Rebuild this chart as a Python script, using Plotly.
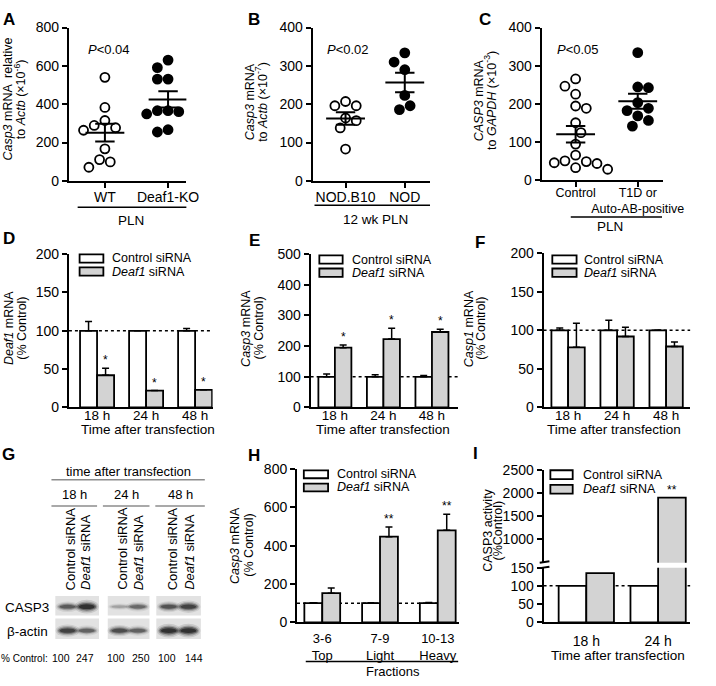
import numpy as np
import plotly.graph_objects as go

W, H = 716, 686
FONT = "Liberation Sans, Arial, Helvetica, sans-serif"
GRAY = "#d3d3d3"

# ---------------- data ----------------
# A
a_categories = ["WT", "Deaf1-KO"]
a_wt = [540, 383, 289, 264, 277, 315, 167, 111, 71, 99]
a_ko = [630, 591, 531, 531, 366, 361, 349, 366, 255, 267]
a_yticks = [0, 200, 400, 600, 800]
a_pvalue = "<i>P</i>&lt;0.04"
a_group = "PLN"
# B
b_categories = ["NOD.B10", "NOD"]
b_nodb10 = [207, 196, 196, 164, 157, 138, 83]
b_nod = [334, 310, 290, 223, 186, 196]
b_yticks = [0, 100, 200, 300, 400]
b_pvalue = "<i>P</i>&lt;0.02"
b_group = "12 wk PLN"
# C
c_categories = ["Control", "T1D or<br>Auto-AB-positive"]
c_control = [265, 246, 225, 194, 188, 150, 124, 94, 65, 50, 43, 45, 48, 28, 32]
c_t1d = [334, 242, 244, 203, 188, 182, 168, 156, 141]
c_yticks = [0, 100, 200, 300, 400]
c_pvalue = "<i>P</i>&lt;0.05"
c_group = "PLN"
# D, E, F
series_names = ["Control siRNA", "<i>Deaf1</i> siRNA"]
time_labels = ["18 h", "24 h", "48 h"]
d_ctrl = [100, 100, 100]
d_ctrl_err = [12, 0, 3]
d_deaf = [42, 22, 23]
d_deaf_err = [9, 0, 0]
d_sig = ["*", "*", "*"]
d_yticks = [0, 50, 100, 150, 200]
e_ctrl = [100, 100, 100]
e_ctrl_err = [9, 7, 4]
e_deaf = [195, 223, 246]
e_deaf_err = [9, 35, 9]
e_sig = ["*", "*", "*"]
e_yticks = [0, 100, 200, 300, 400, 500]
f_ctrl = [100, 100, 100]
f_ctrl_err = [3, 13, 0.5]
f_deaf = [78, 92, 79]
f_deaf_err = [31, 12, 6]
f_sig = ["", "", ""]
f_yticks = [0, 50, 100, 150, 200]
# G (western blot)
blot_header = "time after transfection"
blot_times = ["18 h", "24 h", "48 h"]
blot_lanes = ["Control siRNA", "<i>Deaf1</i> siRNA"]
blot_rows = ["CASP3", "β-actin"]
casp3_intensity = [0.65, 1.0, 0.25, 0.55, 0.7, 0.85]
actin_intensity = [0.85, 0.6, 0.75, 0.6, 1.0, 1.0]
pct_control = [100, 247, 100, 250, 100, 144]
# H
fraction_labels = ["3-6<br>Top", "7-9<br>Light", "10-13<br>Heavy"]
h_ctrl = [100, 100, 100]
h_ctrl_err = [2, 2, 4]
h_deaf = [152, 447, 480]
h_deaf_err = [27, 50, 84]
h_sig = ["", "**", "**"]
h_yticks = [0, 200, 400, 600, 800]
# I
i_times = ["18 h", "24 h"]
i_ctrl = [100, 100]
i_deaf = [135, 1900]
i_sig = ["", "**"]
i_yticks_low = [0, 50, 100, 150]
i_yticks_high = [1000, 1500, 2000, 2500]


# ---------------- helpers ----------------
def fx(x):
    return x / W


def fy(y):
    return 1 - y / H


fig = go.Figure()
annotations = []
shapes = []
layout = dict(width=W, height=H, margin=dict(l=0, r=0, t=0, b=0),
              paper_bgcolor="white", plot_bgcolor="rgba(0,0,0,0)",
              showlegend=False, barmode="overlay",
              font=dict(family=FONT, color="black"))

axis_base = dict(showline=True, linecolor="black", linewidth=2, showgrid=False,
                 zeroline=False, ticks="outside", ticklen=5, tickwidth=1.5,
                 tickcolor="black", fixedrange=True, tickangle=0)


def names(i):
    s = "" if i == 1 else str(i)
    return "xaxis" + s, "yaxis" + s, "x" + s, "y" + s


def set_axes(i, xpx, ypx, xrange, yrange, ytickvals, xtickvals=None, xticktext=None,
             xticks="outside", xticklen=5, xtickcolor="black", xfont=14, yfont=14,
             xvisible=True, xstandoff=0):
    xa, ya, xr, yr = names(i)
    layout[xa] = dict(axis_base, domain=[fx(xpx[0]), fx(xpx[1])], range=xrange, anchor=yr,
                      tickvals=xtickvals, ticktext=xticktext, ticks=xticks, ticklen=xticklen,
                      tickcolor=xtickcolor, visible=xvisible, ticklabelstandoff=xstandoff,
                      tickfont=dict(family=FONT, size=xfont, color="black"))
    layout[ya] = dict(axis_base, domain=[fy(ypx[1]), fy(ypx[0])], range=yrange, anchor=xr,
                      tickvals=ytickvals, tickfont=dict(family=FONT, size=yfont, color="black"))


def ann(text, x, y, size=13, xanchor="center", yanchor="middle", angle=0, bold=False):
    if bold:
        text = "<b>" + text + "</b>"
    annotations.append(dict(text=text, x=fx(x), y=fy(y), xref="paper", yref="paper",
                            xanchor=xanchor, yanchor=yanchor, showarrow=False,
                            textangle=angle, font=dict(family=FONT, size=size, color="black")))


def line_px(x0, x1, y0, y1, color="black", width=1.5):
    shapes.append(dict(type="line", xref="paper", yref="paper", x0=fx(x0), x1=fx(x1),
                       y0=fy(y0), y1=fy(y1), line=dict(color=color, width=width)))


def swarm_offsets(values, y_ppu, diam=11.0, step=5.5):
    order = np.argsort(-values, kind="stable")
    placed = []
    offs = np.zeros(len(values))
    cands = [0.0]
    for j in range(1, 14):
        cands += [j * step, -j * step]
    for n, i in enumerate(order):
        y = values[i] * y_ppu
        cc = cands if n % 2 == 0 else [-c for c in cands]
        for c in cc:
            if all((c - px) ** 2 + (y - py) ** 2 >= diam ** 2 for px, py in placed):
                offs[i] = c
                placed.append((c, y))
                break
    return offs


def dot_panel(i, groups, filled, x_ppu, y_ppu):
    _, _, xr, yr = names(i)
    for g, (vals, fill) in enumerate(zip(groups, filled)):
        v = np.asarray(vals, float)
        offs = swarm_offsets(v, y_ppu) / x_ppu
        fig.add_trace(go.Scatter(
            x=g + offs, y=v, mode="markers", xaxis=xr, yaxis=yr, cliponaxis=False,
            marker=dict(size=9, color="black" if fill else "white",
                        line=dict(color="black", width=1.8))))
        m = v.mean()
        s = v.std(ddof=1) / np.sqrt(len(v))
        hw, cw = 20 / x_ppu, 10 / x_ppu
        fig.add_trace(go.Scatter(
            x=[g - hw, g + hw, None, g, g, None, g - cw, g + cw, None, g - cw, g + cw],
            y=[m, m, None, m - s, m + s, None, m - s, m - s, None, m + s, m + s],
            mode="lines", line=dict(color="black", width=2), xaxis=xr, yaxis=yr,
            cliponaxis=False))


def bar_panel(i, ctrl, ctrl_err, deaf, deaf_err, bw):
    _, _, xr, yr = names(i)
    x = np.arange(len(ctrl))
    for vals, errs, off, col in [(ctrl, ctrl_err, -bw, "white"), (deaf, deaf_err, 0, GRAY)]:
        err = None
        if errs is not None:
            err = dict(type="data", array=errs, arrayminus=[0] * len(errs), symmetric=False,
                       color="black", thickness=1.5, width=3.5)
        fig.add_trace(go.Bar(x=x, y=vals, offset=off, width=bw, xaxis=xr, yaxis=yr,
                             marker=dict(color=col, line=dict(color="black", width=1.8)),
                             error_y=err))


def stars(i, vals, errs, sig, bw):
    _, _, xr, yr = names(i)
    for k, (v, e, s) in enumerate(zip(vals, errs, sig)):
        if s:
            annotations.append(dict(text=s, x=k + bw / 2, y=v + e, xref=xr, yref=yr,
                                    yanchor="bottom", showarrow=False, yshift=-1,
                                    font=dict(family=FONT, size=12, color="black")))


def ref_line(i, y=100):
    _, _, xr, yr = names(i)
    shapes.append(dict(type="line", xref=xr + " domain", yref=yr, x0=0, x1=1, y0=y, y1=y,
                       layer="below", line=dict(color="black", width=1.5, dash="3px,3px")))


def legend_box(x0, y_top, gap, box_w, text_x, box_h=8.5, size=12.5):
    for k, (nm, fc) in enumerate(zip(series_names, ["white", GRAY])):
        y0 = y_top + k * gap
        shapes.append(dict(type="rect", xref="paper", yref="paper", x0=fx(x0), x1=fx(x0 + box_w),
                           y0=fy(y0 + box_h), y1=fy(y0), fillcolor=fc,
                           line=dict(color="black", width=1.8)))
        ann(nm, text_x, y0 + box_h / 2, size=size, xanchor="left")


def ytitle(lines, xs, yc, size=12.5):
    for t, x in zip(lines, xs):
        ann(t, x, yc, size=size, angle=-90)


# ---------------- panel A ----------------
set_axes(1, (71, 192), (20, 177), [-0.57, 1.29], [0, 800], a_yticks, [0, 1], a_categories,
         xstandoff=-3)
dot_panel(1, [a_wt, a_ko], [False, True], 65, 157 / 800)
ann("A", 9, 12, size=17, bold=True)
ann(a_pvalue, 112, 43, size=13)
ytitle(["<i>Casp3</i> mRNA  relative", "to <i>Actb</i> (×10<sup>-6</sup>)"], [8, 20], 93)
line_px(80, 192, 204, 204)
ann(a_group, 135, 218, size=13.5)

# ---------------- panel B ----------------
set_axes(2, (322, 443), (20, 177), [-0.557, 1.426], [0, 400], b_yticks, [0, 1], b_categories,
         xstandoff=-3)
dot_panel(2, [b_nodb10, b_nod], [False, True], 61, 157 / 400)
ann("B", 262, 12, size=17, bold=True)
ann(b_pvalue, 358, 43, size=13)
ytitle(["<i>Casp3</i> mRNA", "to <i>Actb</i> (×10<sup>-7</sup>)"], [257, 269], 96)
line_px(324, 443, 202, 202)
ann(b_group, 387, 217, size=13.5)

# ---------------- panel C ----------------
set_axes(3, (558, 683), (20, 176), [-0.547, 1.406], [0, 400], c_yticks, [0, 1], c_categories,
         xfont=12.5, xstandoff=-5)
dot_panel(3, [c_control, c_t1d], [False, True], 64, 156 / 400)
ann("C", 500, 12, size=17, bold=True)
ann(c_pvalue, 595, 43, size=13)
ytitle(["<i>CASP3</i> mRNA", "to <i>GAPDH</i> (×10<sup>-3</sup>)"], [493, 505], 95)
line_px(588, 682, 214, 214)
ann(c_group, 628, 224, size=13.5)

# ---------------- panel D ----------------
set_axes(4, (71, 219), (252, 409), [-0.574, 2.356], [0, 200], d_yticks, [0, 1, 2], time_labels,
         xticks="", xstandoff=-6, xfont=13.5)
ref_line(4)
bar_panel(4, d_ctrl, d_ctrl_err, d_deaf, d_deaf_err, 0.347)
stars(4, d_deaf, d_deaf_err, d_sig, 0.347)
legend_box(82, 252.2, 13.4, 24.5, 113)
ann("D", 9, 236, size=17, bold=True)
ytitle(["<i>Deaf1</i> mRNA", "(% Control)"], [10, 23], 328)
ann("Time after transfection", 152, 432, size=13.5)

# ---------------- panel E ----------------
set_axes(5, (320, 472), (252, 409), [-0.5, 2.54], [0, 500], e_yticks, [0, 1, 2], time_labels,
         xticks="", xstandoff=-6, xfont=13.5)
ref_line(5)
bar_panel(5, e_ctrl, e_ctrl_err, e_deaf, e_deaf_err, 0.34)
stars(5, e_deaf, e_deaf_err, e_sig, 0.34)
legend_box(329, 253.3, 13.4, 24, 361)
ann("E", 262, 238, size=17, bold=True)
ytitle(["<i>Casp3</i> mRNA", "(% Control)"], [254, 267], 328)
ann("Time after transfection", 395, 432, size=13.5)

# ---------------- panel F ----------------
set_axes(6, (560, 711), (251, 409), [-0.5, 2.49], [0, 200], f_yticks, [0, 1, 2], time_labels,
         xticks="", xstandoff=-6, xfont=13.5)
ref_line(6)
bar_panel(6, f_ctrl, f_ctrl_err, f_deaf, f_deaf_err, 0.34)
legend_box(569, 253.3, 13.4, 25, 600)
ann("F", 495, 240, size=17, bold=True)
ytitle(["<i>Casp1</i> mRNA", "(% Control)"], [484, 496], 328)
ann("Time after transfection", 633, 432, size=13.5)

# ---------------- panel G (blot) ----------------
ann("G", 9, 457, size=17, bold=True)
blot_panels_x = [(57, 102), (111, 154), (161, 207)]
blot_rows_y = [(602, 622), (625, 646)]
band_centers_y = [613, 637.5]
lane_frac = [0.28, 0.72]
ann(blot_header, 132, 475, size=13)
line_px(53, 211, 483, 483, color="#8c8c8c", width=1.5)
group_lines = [(53, 100), (106, 154), (160, 211)]
for t, (x0, x1) in zip(blot_times, group_lines):
    ann(t, (x0 + x1) / 2, 498, size=13)
    line_px(x0, x1, 510, 510, color="#8c8c8c", width=1.5)
lane_label_x = [73, 88, 126, 143, 178, 195]
for k, x in enumerate(lane_label_x):
    ann(blot_lanes[k % 2], x, 598, size=13, angle=-90, yanchor="bottom")
for (x0, x1) in blot_panels_x:
    for (y0, y1) in blot_rows_y:
        shapes.append(dict(type="rect", xref="paper", yref="paper", x0=fx(x0), x1=fx(x1),
                           y0=fy(y1), y1=fy(y0), fillcolor="#e2e2e2", line=dict(width=0)))
layers = [(1.30, 2.0, 0.12), (1.15, 1.5, 0.22), (1.02, 1.1, 0.40), (0.85, 0.7, 0.6)]
for r, intens in enumerate([casp3_intensity, actin_intensity]):
    for k, I in enumerate(intens):
        x0, x1 = blot_panels_x[k // 2]
        cx = x0 + (x1 - x0) * lane_frac[k % 2]
        cy = band_centers_y[r]
        t = 2.5 + 4.5 * I
        for ws, hs, a in layers:
            w = 19 * ws
            h = t * hs
            shapes.append(dict(type="circle", xref="paper", yref="paper",
                               x0=fx(cx - w / 2), x1=fx(cx + w / 2), y0=fy(cy + h / 2), y1=fy(cy - h / 2),
                               fillcolor=f"rgba(15,15,15,{a * I:.3f})", line=dict(width=0)))
ann(blot_rows[0], 53, 614, size=13.5, xanchor="right")
ann(blot_rows[1], 52, 638, size=13.5, xanchor="right")
ann("% Control:", 51, 666, size=10, xanchor="right")
pct_x = [63, 88, 120, 145, 172, 200]
for v, x in zip(pct_control, pct_x):
    ann(str(v), x, 666, size=10.5)

# ---------------- panel H ----------------
set_axes(7, (306, 473), (472, 629), [-0.437, 2.37], [0, 800], h_yticks, [0, 1, 2], fraction_labels,
         xticks="outside", xticklen=6, xtickcolor="rgba(0,0,0,0)", xfont=13, xstandoff=-3)
ref_line(7)
bar_panel(7, h_ctrl, h_ctrl_err, h_deaf, h_deaf_err, 0.31)
stars(7, h_deaf, h_deaf_err, h_sig, 0.31)
legend_box(313, 473.5, 13.4, 25, 345, box_h=8)
ann("H", 262, 458, size=17, bold=True)
ytitle(["<i>Casp3</i> mRNA", "(% Control)"], [242, 257], 550)
line_px(315, 472, 669, 669)
ann("Fractions", 405, 679, size=13)

# ---------------- panel I (broken axis) ----------------
set_axes(8, (560, 711), (573, 629), [-0.595, 1.446], [0, 150], i_yticks_low, [0, 1], i_times,
         xticks="outside", xticklen=9, xtickcolor="rgba(0,0,0,0)", xstandoff=-4)
set_axes(9, (560, 711), (473, 568), [-0.595, 1.446], [493, 2500], i_yticks_high, xvisible=False)
ref_line(8)
bar_panel(8, i_ctrl, None, i_deaf, None, 0.385)
bar_panel(9, i_ctrl, None, i_deaf, None, 0.385)
stars(9, i_deaf, [0, 0], i_sig, 0.385)
line_px(556, 566, 568, 566.5, width=2)
line_px(556, 566, 573.5, 572, width=2)
legend_box(567, 473.3, 15, 23, 599, box_h=9)
ann("I", 490, 456, size=17, bold=True)
ytitle(["CASP3 activity", "(%Control)"], [502, 513], 535)
ann("Time after transfection", 637, 663, size=13.5)

layout["annotations"] = annotations
layout["shapes"] = shapes
fig.update_layout(**layout)
fig.write_html("out.html", config={"displayModeBar": False},
               post_script="document.body.style.margin='0px';document.body.style.overflow='hidden';")
